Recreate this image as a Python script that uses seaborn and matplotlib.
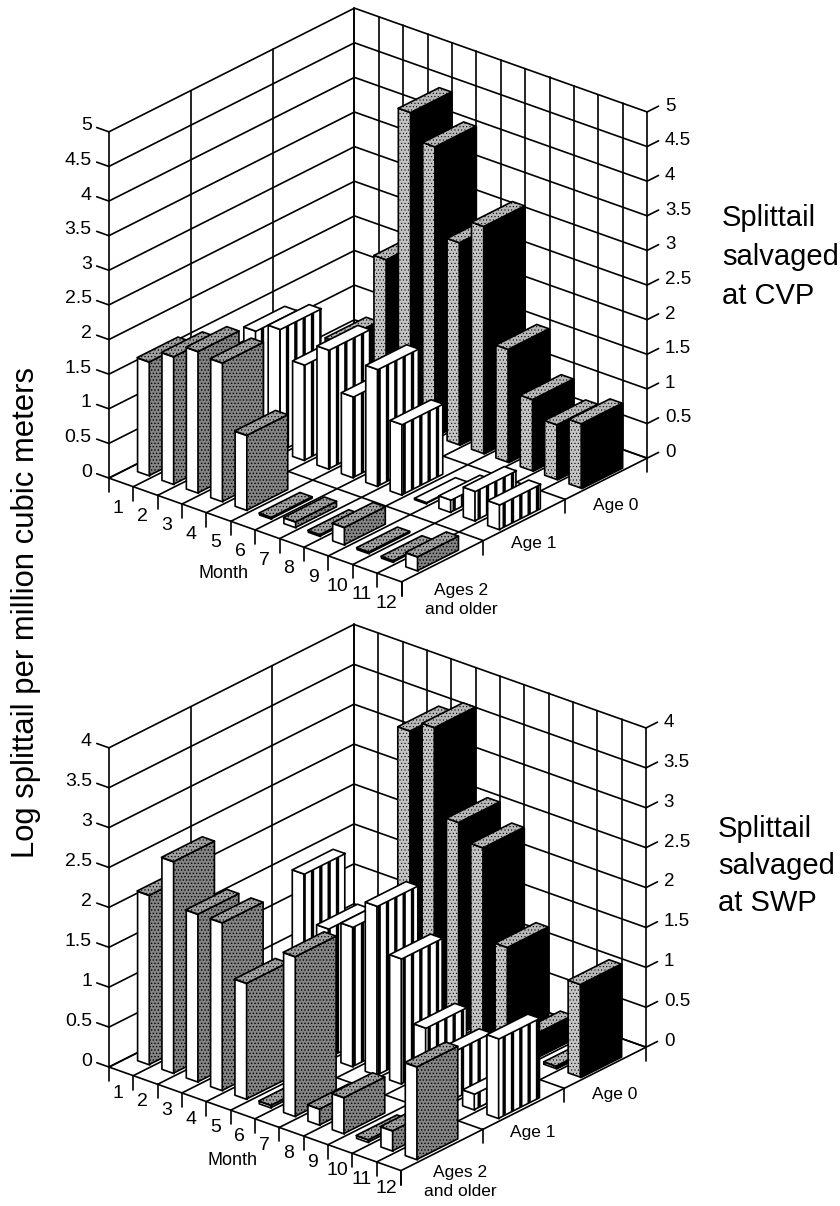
import numpy as np
import matplotlib
matplotlib.use('Agg')
import matplotlib.pyplot as plt
import seaborn as sns
from mpl_toolkits.mplot3d import proj3d
from mpl_toolkits.mplot3d.art3d import Poly3DCollection

# values, one list per age class, months 1-12
months = [str(m) for m in range(1, 13)]
age_labels = ['Ages 2\nand older', 'Age 1', 'Age 0']

cvp_age2 = [1.64, 1.84, 2.04, 2.0, 1.08, 0.02, 0.08, 0.02, 0.25, 0.02, 0.02, 0.2]
cvp_age1 = [0, 1.62, 1.77, 1.38, 1.72, 1.17, 1.69, 1.02, 0.02, 0.18, 0.43, 0.36]
cvp_age0 = [0, 0.86, 0, 2.3, 4.55, 4.18, 2.92, 3.28, 1.63, 1.03, 0.79, 0.93]

swp_age2 = [2.12, 2.65, 2.1, 2.1, 1.45, 0.03, 2.0, 0.2, 0.45, 0.03, 0.25, 1.16]
swp_age1 = [0, 0, 0, 2.2, 1.62, 1.75, 2.12, 1.57, 0.81, 0.6, 0.2, 1.0]
swp_age0 = [0, 0, 0, 0, 3.58, 3.73, 2.65, 2.44, 1.3, 0.3, 0.03, 1.16]

cvp_ticks = [0, 0.5, 1, 1.5, 2, 2.5, 3, 3.5, 4, 4.5, 5]
swp_ticks = [0, 0.5, 1, 1.5, 2, 2.5, 3, 3.5, 4]

sns.set_theme(style='white')
plt.rcParams['font.family'] = ['Liberation Sans']
plt.rcParams['text.color'] = 'black'

FIG_W, FIG_H = 840, 1206
SIDE = 640

# front face, side face, top face: (facecolor, hatch, hatch line width)
styles = {
    0: [('white', None, 1), ('#848484', '.....', 0.6), ('#a0a0a0', '.....', 0.5)],
    1: [('white', None, 1), ('white', '||', 2.4), ('white', None, 1)],
    2: [('#c4c4c4', '.....', 0.4), ('black', None, 1), ('#b8b8b8', '.....', 0.4)],
}


def label(ax, x, y, z, s, **kw):
    # project to the 2d view so the label is an ordinary text
    kw.setdefault('ha', 'center')
    kw.setdefault('va', 'center')
    kw.setdefault('fontsize', 14)
    xp, yp, _ = proj3d.proj_transform(x, y, z, ax.get_proj())
    ax.text2D(xp, yp, s, transform=ax.transData, color='black', **kw)


def draw_bar(ax, month, age, height, order):
    x0, x1 = month + 0.35, month + 0.85
    y0, y1 = age + 0.24, age + 0.74
    front = [(x0, y0, 0), (x1, y0, 0), (x1, y0, height), (x0, y0, height)]
    side = [(x1, y0, 0), (x1, y1, 0), (x1, y1, height), (x1, y0, height)]
    top = [(x0, y0, height), (x1, y0, height), (x1, y1, height), (x0, y1, height)]
    for verts, (color, hatch, hlw) in zip([front, side, top], styles[age]):
        # hatch line width comes from rcParams when the collection is made
        with plt.rc_context({'hatch.linewidth': hlw}):
            poly = Poly3DCollection([verts], facecolors=color, edgecolors='black',
                                    linewidths=1.2, hatch=hatch)
        poly.set_zorder(order)
        ax.add_collection3d(poly)


def draw_panel(center_x, center_y, aspect, zoom, series, ticks, month_x, month_dz, num_dz, age_dz):
    zmax = ticks[-1]
    left = (center_x - SIDE * 0.095 / 0.185) / FIG_W
    bottom = (FIG_H - center_y - SIDE * 0.095 / 0.185) / FIG_H
    ax = plt.gcf().add_axes([left, bottom, SIDE / FIG_W, SIDE / FIG_H],
                            projection='3d', proj_type='ortho', computed_zorder=False)
    ax.patch.set_alpha(0)
    ax.set_box_aspect((1, 1, aspect), zoom=zoom)
    ax.view_init(elev=25, azim=-50)
    ax.set_xticks([])
    ax.set_yticks([])
    ax.set_zticks([])
    ax.set_xlim(0, 12, view_margin=0)
    ax.set_ylim(0, 3, view_margin=0)
    ax.set_zlim(0, zmax, view_margin=0)
    ax.set_axis_off()

    px = 348 / 5 if zmax == 5 else 320 / 4  # pixels per unit of log salvage
    line = dict(color='black', lw=1.2, zorder=1, solid_capstyle='round')

    # walls and floor
    for t in ticks:
        ax.plot([0, 0, 12], [0, 3, 3], [t, t, t], **line)
        ax.plot([-0.5, 0], [0, 0], [t, t], **line)
        ax.plot([12, 12], [3, 3.14], [t, t], **line)
        label(ax, -0.7, 0, t, f'{t:g}', ha='right')
        label(ax, 12.16, 3.17, t, f'{t:g}', ha='left', fontsize=13.5)
    for y in range(4):
        ax.plot([0, 0], [y, y], [0, zmax], **line)
        ax.plot([0, 12], [y, y], [0, 0], **line)
        ax.plot([12, 12], [y, y], [0, -14 / px], **line)
    for x in range(13):
        ax.plot([x, x], [3, 3], [0, zmax], **line)
        ax.plot([x, x], [0, 3], [0, 0], **line)
        ax.plot([x, x], [0, 0], [0, -14 / px], **line)

    # month and age labels
    for i, m in enumerate(months):
        label(ax, i + 0.38, 0, num_dz / px, m)
    label(ax, month_x, 0, month_dz / px, 'Month', fontsize=13)
    label(ax, 12.4, 2.5, -23 / px, age_labels[2], fontsize=12.5)
    label(ax, 12.4, 1.5, -20 / px, age_labels[1], fontsize=12.5)
    label(ax, 12.5, 0.58, age_dz / px, age_labels[0], fontsize=12.5, linespacing=1.4)

    # bars, back row first so nearer ones paint over them
    order = 2
    for age in [2, 1, 0]:
        for month, height in enumerate(series[age]):
            if height > 0:
                draw_bar(ax, month, age, height, order)
                order += 1
    return ax


fig = plt.figure(figsize=(FIG_W / 100, FIG_H / 100), dpi=100)

draw_panel(378, 295, 1, 1.0037, [cvp_age2, cvp_age1, cvp_age0], cvp_ticks, 4.7, -55, -27, -38)
draw_panel(377.5, 897.5, 0.924, 0.9768, [swp_age2, swp_age1, swp_age0], swp_ticks, 5.08, -50, -23, -31)

fig.text(26 / FIG_W, 1 - 612 / FIG_H, 'Log splittail per million cubic meters',
         rotation=90, ha='center', va='center', fontsize=22.3)
fig.text(722 / FIG_W, 1 - 257 / FIG_H, 'Splittail\nsalvaged\nat CVP', ha='left', va='center',
         fontsize=21, linespacing=1.5)
fig.text(718 / FIG_W, 1 - 866 / FIG_H, 'Splittail\nsalvaged\nat SWP', ha='left', va='center',
         fontsize=21, linespacing=1.42)

fig.savefig('out.png', dpi=100)
